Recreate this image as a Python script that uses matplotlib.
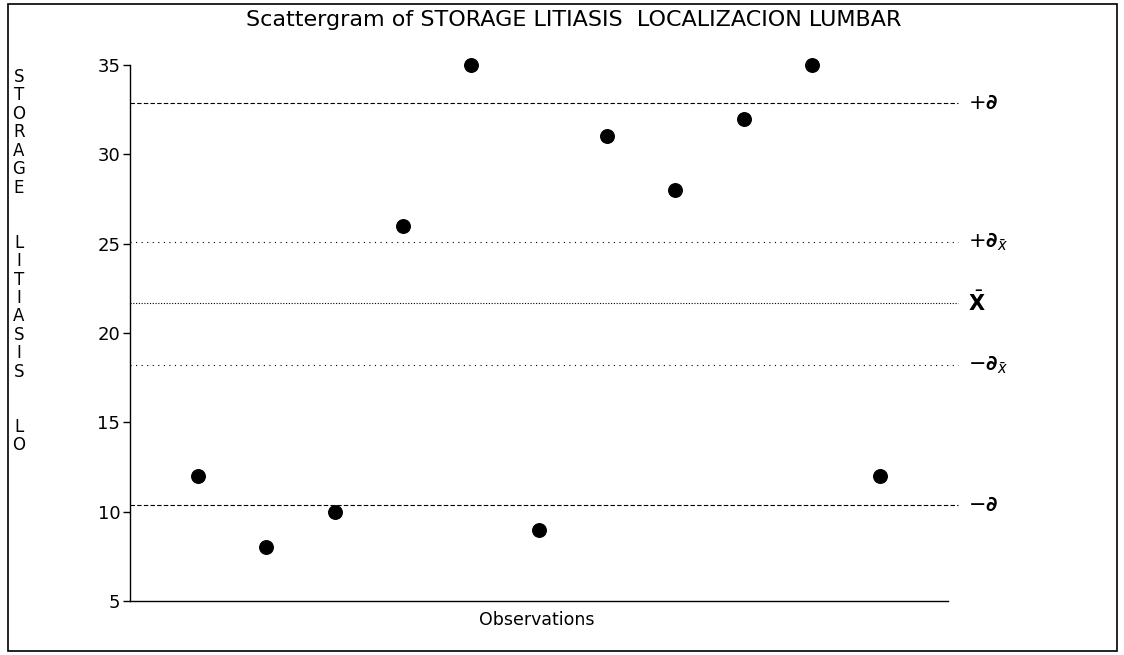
import numpy as np
import matplotlib
matplotlib.use('Agg')
import matplotlib.pyplot as plt
from matplotlib.patches import Rectangle

# observations (order on x axis) and values
obs = [1, 2, 3, 4, 5, 6, 7, 8, 9, 10, 11]
vals = [12, 8, 10, 26, 35, 9, 31, 28, 32, 35, 12]

# reference lines: mean, +-sd, +-sd of mean
ref_vals = [32.9, 25.1, 21.7, 18.2, 10.4]
ref_labels = [r'$+\mathbf{\partial}$', r'$+\mathbf{\partial}_{\bar{x}}$', r'$\bar{\mathbf{X}}$',
              r'$-\mathbf{\partial}_{\bar{x}}$', r'$-\mathbf{\partial}$']
ref_styles = [(0, (4, 2)), (0, (1, 4)), (0, (1, 1.5)), (0, (1, 4)), (0, (4, 2))]

yticks = [5, 10, 15, 20, 25, 30, 35]
ylabel = "STORAGE  LITIASIS  LO"
title = "Scattergram of STORAGE LITIASIS  LOCALIZACION LUMBAR"

plt.rcParams['font.family'] = ['DejaVu Sans']
plt.rcParams['mathtext.fontset'] = 'dejavusans'

W, H = 1124, 655
fig = plt.figure(figsize=(W / 100, H / 100), dpi=100)
fig.patch.set_facecolor('white')

# outer frame
fig.patches.append(Rectangle((8 / W, 4 / H), (1117 - 8) / W, (651 - 4) / H,
                             transform=fig.transFigure, fill=False,
                             edgecolor='black', linewidth=1.2))

ax = fig.add_axes([130 / W, (H - 601) / H, (948 - 130) / W, (601 - 65) / H])
ax.set_xlim(0, 12)
ax.set_ylim(5, 35)
ax.spines['top'].set_visible(False)
ax.spines['right'].set_visible(False)
ax.spines['left'].set_linewidth(1.0)
ax.spines['bottom'].set_linewidth(1.0)
ax.set_xticks([])
ax.set_yticks(yticks)
ax.tick_params(axis='y', direction='out', length=5, width=1, labelsize=13, pad=2)

for v, lab, ls in zip(ref_vals, ref_labels, ref_styles):
    ax.plot([0, 12.15], [v, v], color='black', linewidth=0.8, linestyle=ls,
            clip_on=False)
    ax.text(12.3, v, lab, fontsize=15, va='center', ha='left', clip_on=False)

ax.scatter(obs, vals, s=95, color='black', zorder=3, clip_on=False)

fig.text(574 / W, 1 - 20 / H, title, ha='center', va='center', fontsize=16)
fig.text(537 / W, 1 - 620 / H, "Observations", ha='center', va='center', fontsize=12.5)

fig.text(19 / W, 1 - 68 / H, "\n".join(ylabel), ha='center', va='top',
         fontsize=12, linespacing=1.03)

fig.savefig('out.png', dpi=100)
